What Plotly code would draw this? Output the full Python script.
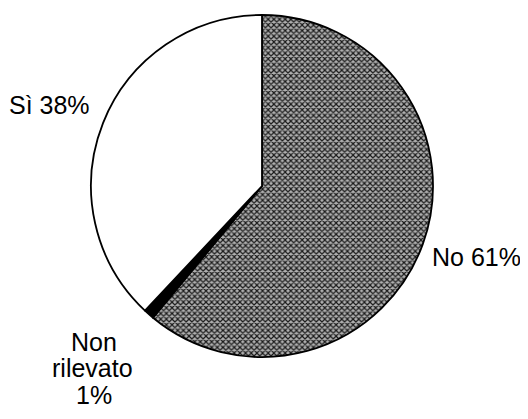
import plotly.graph_objects as go

labels = ["No", "Non rilevato", "Sì"]
values = [61, 1, 38]
label_lines = [["No"], ["Non", "rilevato"], ["Sì"]]
# label anchor centres in pixels (one per line for multi-line labels)
label_pos = [[(468, 249)], [(86, 334), (84, 360), (86, 387)], [(41, 97)]]
fill_colors = ["#8c8c8c", "#000000", "#ffffff"]

# page body has an 8px margin, so the figure is sized to the visible area
W, H = 520, 411
cx, cy, r = 254, 178, 171

fig = go.Figure(go.Pie(
    labels=labels,
    values=values,
    sort=False,
    direction="clockwise",
    rotation=0,
    textinfo="none",
    hoverinfo="label+percent",
    marker=dict(
        colors=fill_colors,
        line=dict(color="#000000", width=1.8),
        pattern=dict(shape=["x", "", ""], fgcolor="#1a1a1a", bgcolor="#b0b0b0",
                     size=4, solidity=0.5),
    ),
    domain=dict(x=[(cx - r) / W, (cx + r) / W], y=[1 - (cy + r) / H, 1 - (cy - r) / H]),
    showlegend=False,
))

font = dict(family="Liberation Sans, Arial, sans-serif", size=25, color="#000000")
for lines, v, positions in zip(label_lines, values, label_pos):
    if len(positions) == 1:
        texts = [f"{' '.join(lines)} {v}%"]
    else:
        texts = lines + [f"{v}%"]
    for txt, (px, py) in zip(texts, positions):
        fig.add_annotation(
            x=px / W, y=1 - py / H, xref="paper", yref="paper",
            text=txt, showarrow=False, xanchor="center", yanchor="middle",
            font=font, align="center",
        )

fig.update_layout(
    width=W, height=H,
    margin=dict(l=0, r=0, t=0, b=0),
    paper_bgcolor="#ffffff",
    plot_bgcolor="#ffffff",
)

fig.write_html("out.html")
